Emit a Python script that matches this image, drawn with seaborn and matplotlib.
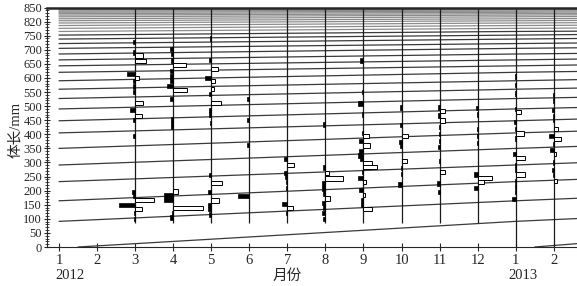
import numpy as np
import pandas as pd
import matplotlib
matplotlib.use("Agg")
import matplotlib.pyplot as plt
import seaborn as sns

# ---------------- data ----------------
month_ticks = list(range(1, 15))
month_labels = ["1", "2", "3", "4", "5", "6", "7", "8", "9", "10", "11", "12", "1", "2"]
sample_months = [3, 4, 5, 6, 7, 8, 9, 10, 11, 12, 13, 14]
sample_bottom = [85, 85, 85, 85, 85, 85, 85, 85, 85, 85, 0, 0]

ytick_vals = list(range(0, 851, 50))
ytick_labels = ["0", "50", "100", "150", "200", "250", "300", "350", "400", "450",
                "500", "550", "600", "650", "700", "750", "820", "850"]

# growth curves: length (mm) read at Jan 2012 (month 1), Jan 2013 (month 13) and right edge
curve_jan2012 = [91, 164, 232, 291, 350, 405, 448, 490, 527, 560, 590, 620, 643, 664,
                 685, 705, 722, 738, 752, 765, 776, 786, 795, 803, 810, 817, 823, 828,
                 833, 837, 841, 844, 847]
curve_jan2013 = [164, 232, 291, 350, 405, 448, 490, 527, 560, 590, 620, 643, 664, 685,
                 705, 722, 738, 752, 765, 776, 786, 795, 803, 810, 817, 823, 828, 833,
                 837, 841, 844, 847, 850]
curve_end = [173, 240, 299, 357, 411, 454, 495, 531, 564, 594, 623, 646, 667, 687,
             707, 724, 740, 754, 766, 777, 787, 796, 804, 811, 818, 824, 829, 834,
             838, 842, 845, 848, 851]
young2012_month = [1.5, 13, 14.62]
young2012_len = [0, 91, 101]
young2013_month = [13.5, 14.62]
young2013_len = [0, 12]

# restructured length-frequency scores (length mm, score); negative = black, positive = white
hist_03 = [(728, -2), (690, -2), (680, 8), (659, 11), (615, -8), (600, 4), (588, -2), (570, -2),
           (550, -2), (510, 8), (485, -5), (465, 7), (452, -2), (393, -2), (195, -3), (180, -2),
           (166, 19), (150, -16), (136, 7), (120, -1), (100, -1)]
hist_04 = [(703, -3), (685, -2), (662, -2), (645, 13), (625, -3), (605, -3), (590, -3), (572, -6),
           (556, 14), (525, -3), (455, -2), (440, -2), (425, -2), (197, 5), (183, -9), (168, -9),
           (138, 30), (120, -1), (105, -3)]
hist_05 = [(740, -1), (665, -2), (632, 7), (601, -6), (588, 4), (560, 3), (542, -2), (512, 10),
           (485, -2), (470, -2), (440, -1), (256, -2), (226, 11), (196, -3), (165, 8), (150, -3),
           (135, -3), (115, -2)]
hist_06 = [(525, -2), (450, -2), (362, -2), (182, -11)]
hist_07 = [(313, -3), (290, 7), (263, -3), (248, -2), (230, -1), (210, -1), (152, -5), (138, 6),
           (120, -1)]
hist_08 = [(435, -2), (282, -2), (263, 4), (243, 18), (225, -3), (208, -3), (190, -2), (172, 5),
           (157, -3), (140, -2), (120, -3), (100, -2)]
hist_09 = [(662, -3), (550, -1), (509, -5), (470, -1), (405, -1), (395, 6), (377, -4), (360, 7),
           (340, -4), (325, -5), (312, -3), (297, 9), (285, 14), (265, -1), (245, -5), (230, 3),
           (202, -4), (185, 2), (165, -2), (150, -2), (134, 9)]
hist_10 = [(495, -2), (432, -2), (395, 6), (374, -3), (358, -2), (305, 5), (280, -1), (260, -1),
           (222, -4)]
hist_11 = [(495, -2), (484, 5), (467, -2), (449, 5), (425, -1), (400, -1), (375, -1), (354, -2),
           (305, -1), (265, 5), (225, -3), (195, -2)]
hist_12 = [(492, -2), (470, -1), (420, -1), (395, -1), (370, -1), (257, -4), (246, 14), (232, 6),
           (209, -4)]
hist_13 = [(605, -1), (575, -1), (545, -1), (490, -1), (480, 5), (443, -2), (420, -1), (403, 8),
           (385, -1), (331, -3), (315, 9), (290, -1), (275, -1), (257, 9), (235, -1), (215, -1),
           (195, -1), (170, -4)]
hist_14 = [(540, -1), (520, -1), (486, -2), (465, -1), (450, -1), (419, 4), (395, -5), (383, 7),
           (365, -1), (345, -4), (330, 2), (300, -1), (273, -2), (255, -1), (235, 3)]
hist_all = [hist_03, hist_04, hist_05, hist_06, hist_07, hist_08, hist_09, hist_10, hist_11,
            hist_12, hist_13, hist_14]

# ---------------- style ----------------
sns.set_style("ticks")
plt.rcParams["font.family"] = ["Liberation Serif", "Noto Sans CJK SC", "DejaVu Sans"]
plt.rcParams["axes.linewidth"] = 0.8

W, H = 577, 286
fig = plt.figure(figsize=(W / 100, H / 100), dpi=100)
ax = fig.add_axes([47 / W, 1 - 247 / H, (W - 47) / W, (247 - 7.5) / H])

# growth curves via seaborn
rows = []
for i, (a, b, c) in enumerate(zip(curve_jan2012, curve_jan2013, curve_end)):
    band = "upper" if a >= 760 else "lower"
    for m, v in zip([1, 13, 14.62], [a, b, c]):
        rows.append({"cohort": i, "month": m, "length": v, "band": band})
for m, v in zip(young2012_month, young2012_len):
    rows.append({"cohort": 100, "month": m, "length": v, "band": "lower"})
for m, v in zip(young2013_month, young2013_len):
    rows.append({"cohort": 101, "month": m, "length": v, "band": "lower"})
df = pd.DataFrame(rows)
sns.lineplot(data=df[df.band == "lower"], x="month", y="length", units="cohort",
             estimator=None, color="#3a3a3a", lw=0.9, ax=ax, legend=False, zorder=1)
sns.lineplot(data=df[df.band == "upper"], x="month", y="length", units="cohort",
             estimator=None, color="#8c8c8c", lw=0.9, ax=ax, legend=False, zorder=1)

# sample baselines
ax.vlines(sample_months, sample_bottom, 850, color="#1a1a1a", lw=0.9, zorder=2)

# histograms
px_to_month = 1 / 38.06
bar_h = 15
for m, hist in zip(sample_months, hist_all):
    lens = np.array([h[0] for h in hist], dtype=float)
    sc = np.array([h[1] for h in hist], dtype=float)
    neg = sc < 0
    ax.barh(lens[neg], np.abs(sc[neg]) * px_to_month, left=m - np.abs(sc[neg]) * px_to_month,
            height=bar_h, color="black", edgecolor="black", lw=0.5, zorder=3)
    ax.barh(lens[~neg], sc[~neg] * px_to_month, left=m,
            height=bar_h, color="white", edgecolor="black", lw=0.7, zorder=3)

ax.set_xlim(1 - 12 / 38.06, 1 + 518 / 38.06)
ax.set_ylim(0, 850)
ax.set_xticks(month_ticks)
ax.set_xticklabels(month_labels, fontsize=10.5)
ax.set_yticks(ytick_vals)
ax.set_yticklabels(ytick_labels, fontsize=9)
ax.set_yticks(list(range(0, 851, 10)), minor=True)
ax.tick_params(axis="x", direction="inout", length=6, width=0.8, pad=2)
ax.tick_params(axis="y", which="major", direction="inout", length=5, width=0.8, pad=1)
ax.tick_params(axis="y", which="minor", direction="inout", length=3, width=0.6)
ax.set_xlabel("")
ax.set_ylabel("")
ax.spines["right"].set_visible(False)
ax.spines["top"].set_linewidth(1.8)

trans = ax.get_xaxis_transform()
ax.text(1.3, -0.12, "2012", transform=trans, ha="center", va="center", fontsize=10.5)
ax.text(13.2, -0.12, "2013", transform=trans, ha="center", va="center", fontsize=10.5)
ax.text(7.0, -0.12, "月份", transform=trans, ha="center", va="center", fontsize=10.5)
fig.text(15 / W, 1 - 130 / H, "体长/mm", rotation=90, ha="center", va="center", fontsize=10.5)

fig.savefig("out.png", dpi=100)
